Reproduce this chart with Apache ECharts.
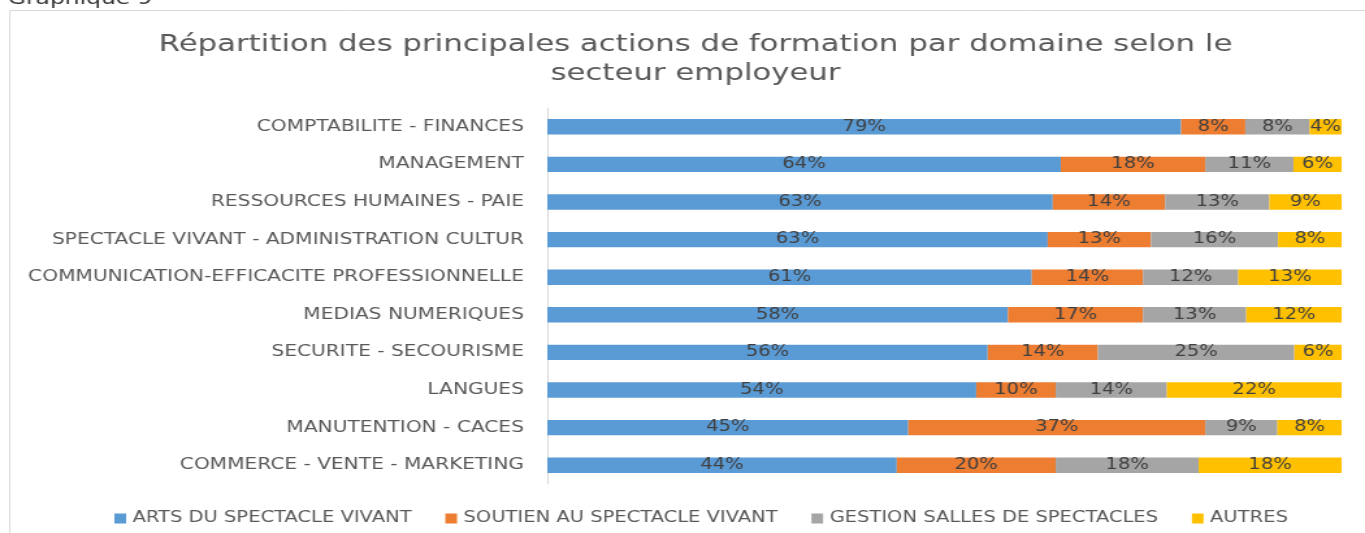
<!DOCTYPE html>
<html>
<head>
<meta charset="utf-8">
<script src="https://cdn.jsdelivr.net/npm/echarts@6/dist/echarts.min.js"></script>
<style>
  html, body { margin: 0; padding: 0; background: #fff; overflow: hidden; }
  /* the source picture is stretched sideways, so draw narrower and stretch */
  #chart { width: 1050px; height: 533px; transform: scaleX(1.3); transform-origin: 0 0; }
</style>
</head>
<body>
<div id="chart"></div>
<script>
  // domaines, du haut vers le bas
  const categories = [
    'COMPTABILITE - FINANCES',
    'MANAGEMENT',
    'RESSOURCES HUMAINES - PAIE',
    'SPECTACLE VIVANT - ADMINISTRATION CULTUR',
    'COMMUNICATION-EFFICACITE PROFESSIONNELLE',
    'MEDIAS NUMERIQUES',
    'SECURITE - SECOURISME',
    'LANGUES',
    'MANUTENTION - CACES',
    'COMMERCE - VENTE - MARKETING'
  ]
  const seriesNames = ['ARTS DU SPECTACLE VIVANT', 'SOUTIEN AU SPECTACLE VIVANT', 'GESTION SALLES DE SPECTACLES', 'AUTRES']
  const arts = [79, 64, 63, 63, 61, 58, 56, 54, 45, 44]
  const soutien = [8, 18, 14, 13, 14, 17, 14, 10, 37, 20]
  const gestion = [8, 11, 13, 16, 12, 13, 25, 14, 9, 18]
  const autres = [4, 6, 9, 8, 13, 12, 6, 22, 8, 18]
  const colors = ['#5B9BD5', '#ED7D31', '#A5A5A5', '#FFC000']

  const all = [arts, soutien, gestion, autres]
  // empilement 100 % : chaque ligne ramenée à sa somme
  const totals = categories.map((c, i) => all.reduce((s, arr) => s + arr[i], 0))

  const chart = echarts.init(document.getElementById('chart'))

  const option = {
    animation: false,
    textStyle: { fontFamily: 'DejaVu Sans' },
    title: {
      text: 'Répartition des principales actions de formation par domaine selon le\nsecteur employeur',
      left: 530,
      textAlign: 'center',
      top: 25,
      textStyle: { fontSize: 23.7, fontWeight: 'normal', color: '#595959', lineHeight: 29, fontFamily: 'DejaVu Sans' }
    },
    graphic: [
      {
        type: 'rect',
        shape: { x: 7.5, y: 10.5, width: 1100, height: 540 },
        style: { fill: 'none', stroke: '#d9d9d9', lineWidth: 1 }
      },
      {
        type: 'text',
        left: 6, top: -10,
        style: { text: 'Graphique 9', fontSize: 18, fill: '#333', fontFamily: 'DejaVu Sans' }
      }
    ],
    legend: {
      bottom: 2,
      left: 83,
      itemWidth: 9,
      itemHeight: 10,
      itemGap: 26,
      icon: 'rect',
      textStyle: { fontSize: 15, color: '#595959' },
      data: seriesNames
    },
    grid: { left: 421, right: 18, top: 108, bottom: 49 },
    xAxis: {
      type: 'value',
      min: 0,
      max: 100,
      show: false
    },
    yAxis: {
      type: 'category',
      inverse: true,
      data: categories,
      axisLine: { show: true, lineStyle: { color: '#d9d9d9' } },
      axisTick: { show: false },
      axisLabel: { fontSize: 15.5, color: '#595959', margin: 18 }
    },
    series: all.map((arr, k) => ({
      name: seriesNames[k],
      type: 'bar',
      stack: 'total',
      barWidth: '41%',
      itemStyle: { color: colors[k] },
      label: {
        show: true,
        position: 'inside',
        fontSize: 15,
        color: '#404040',
        formatter: p => arr[p.dataIndex] + '%'
      },
      data: arr.map((v, i) => v / totals[i] * 100)
    }))
  }

  chart.setOption(option)
</script>
</body>
</html>
